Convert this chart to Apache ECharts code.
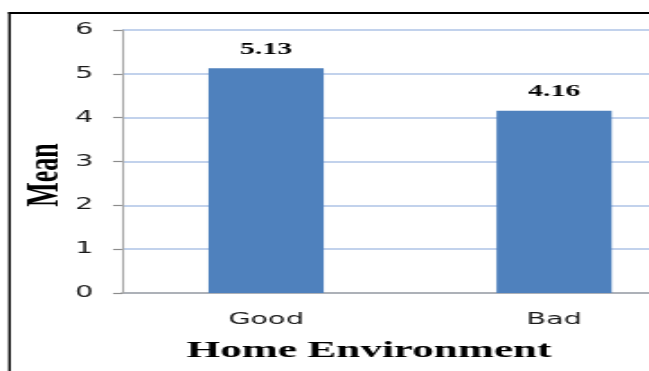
<!DOCTYPE html>
<html>
<head>
<meta charset="utf-8">
<script src="https://cdn.jsdelivr.net/npm/echarts@6/dist/echarts.min.js"></script>
<style>
html,body{margin:0;padding:0;background:#fff;overflow:hidden;}
#wrap{width:649px;height:371px;overflow:hidden;}
#c{width:400px;height:371px;transform:scaleX(1.7978);transform-origin:0 0;}
</style>
</head>
<body>
<div id="wrap"><div id="c"></div></div>
<script>
var categories = ['Good', 'Bad'];
var meanValues = [5.13, 4.16];
var yTicks = [0, 1, 2, 3, 4, 5, 6];
var xTitle = 'Home Environment';
var yTitle = 'Mean';

var chart = echarts.init(document.getElementById('c'), null, {renderer: 'canvas', width: 400, height: 371});
chart.setOption({
  animation: false,
  backgroundColor: '#ffffff',
  grid: {left: 67.9, top: 30, width: 320.4, height: 263, containLabel: false},
  xAxis: {
    type: 'category',
    data: categories,
    axisLine: {lineStyle: {color: '#a6a6a6', width: 1.5}},
    axisTick: {show: false},
    axisLabel: {fontFamily: 'DejaVu Sans', fontSize: 16, color: '#1a1a1a', margin: 19}
  },
  yAxis: {
    type: 'value',
    min: yTicks[0],
    max: yTicks[yTicks.length - 1],
    interval: 1,
    axisLine: {show: true, lineStyle: {color: '#a6a6a6', width: 1.1}},
    axisTick: {show: true, length: 5, lineStyle: {color: '#8c8c8c', width: 1.2}},
    axisLabel: {fontFamily: 'DejaVu Sans', fontSize: 16, color: '#1a1a1a', margin: 16},
    splitLine: {lineStyle: {color: '#aec3e6', width: 1.5}}
  },
  series: [{
    type: 'bar',
    data: meanValues,
    barWidth: '40%',
    itemStyle: {color: '#4f81bd'},
    label: {
      show: true,
      position: 'top',
      distance: 10,
      fontFamily: 'Liberation Serif',
      fontWeight: 'bold',
      fontSize: 16.5,
      color: '#000',
      formatter: function (p) { return p.value.toFixed(2); }
    }
  }],
  graphic: [
    {type: 'line', shape: {x1: 5.3, y1: 12, x2: 5.3, y2: 400}, style: {stroke: '#000', lineWidth: 1.4}, silent: true, z: 100},
    {type: 'line', shape: {x1: 4.6, y1: 13, x2: 400, y2: 13}, style: {stroke: '#000', lineWidth: 2}, silent: true, z: 100},
    {type: 'text', x: 205.2, y: 351, style: {text: xTitle, font: 'bold 24px "Liberation Serif"', fill: '#000', textAlign: 'center', textVerticalAlign: 'middle'}},
    {type: 'text', x: 25.6, y: 175, rotation: Math.PI / 2, style: {text: yTitle, font: 'bold 26px "Liberation Serif"', fill: '#000', textAlign: 'center', textVerticalAlign: 'middle'}}
  ]
});
</script>
</body>
</html>
